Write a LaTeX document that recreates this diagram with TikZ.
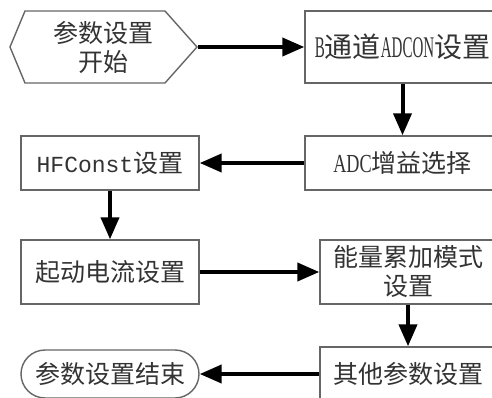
\documentclass[tikz,border=0pt]{standalone}
\usepackage{fontspec}
\setmainfont{Liberation Serif}[FakeStretch=0.7]
\newfontfamily\narrow{Liberation Serif}[FakeStretch=0.5]
\newfontfamily\cjk{Noto Sans CJK SC}
\newfontfamily\mono{Liberation Mono}
\usetikzlibrary{arrows.meta,calc}
\tikzset{
  box/.style={draw=black!60, line width=1.4pt, text=black!80, inner sep=0pt,
    font=\fontsize{25}{29}\selectfont\cjk, align=center},
  flow/.style={line width=4pt, -{Triangle[length=22pt,width=18pt]}, black},
}
\begin{document}
\begin{tikzpicture}[x=1pt,y=-1pt]
\clip (0,0) rectangle (492,398);
\fill[white] (0,0) rectangle (492,398);
% start hexagon
\node[box, draw=none, minimum width=188pt, minimum height=72pt] (start) at (103,47) {参数设置\\开始};
\draw[draw=black!60, line width=1.4pt] (10,47) -- (25,11) -- (165,11) -- (197,47) -- (165,83) -- (25,83) -- cycle;
% boxes
\node[box, minimum width=195pt, minimum height=72pt] (bch) at (402.5,47)
  {\fontsize{30}{30}\selectfont\narrow B{\fontsize{28}{30}\selectfont\cjk 通道}ADCON{\fontsize{28}{30}\selectfont\cjk 设置}};
\node[box, minimum width=195pt, minimum height=54pt] (adc) at (402.5,163)
  {{\rmfamily\fontsize{26}{30}\selectfont ADC}增益选择};
\node[box, minimum width=178pt, minimum height=54pt] (hfc) at (110,163)
  {{\mono\fontsize{23}{28}\selectfont HFConst}设置};
\node[box, minimum width=178pt, minimum height=64pt] (qd) at (110,272) {起动电流设置};
\node[box, minimum width=176pt, minimum height=64pt] (nl) at (408,272) {能量累加模式\\设置};
\node[box, minimum width=176pt, minimum height=54pt] (qt) at (408,374) {其他参数设置};
\node[box, rounded corners=24pt, minimum width=178pt, minimum height=48pt] (fin) at (110,374) {参数设置结束};
% connectors
\draw[flow] (start.east) -- (bch.west);
\draw[flow] (bch.south) -- (adc.north);
\draw[flow] (adc.west) -- (hfc.east);
\draw[flow] (hfc.south) -- (qd.north);
\draw[flow] (qd.east) -- (nl.west);
\draw[flow] (nl.south) -- (qt.north);
\draw[flow] (qt.west) -- (fin.east);
\end{tikzpicture}
\end{document}
